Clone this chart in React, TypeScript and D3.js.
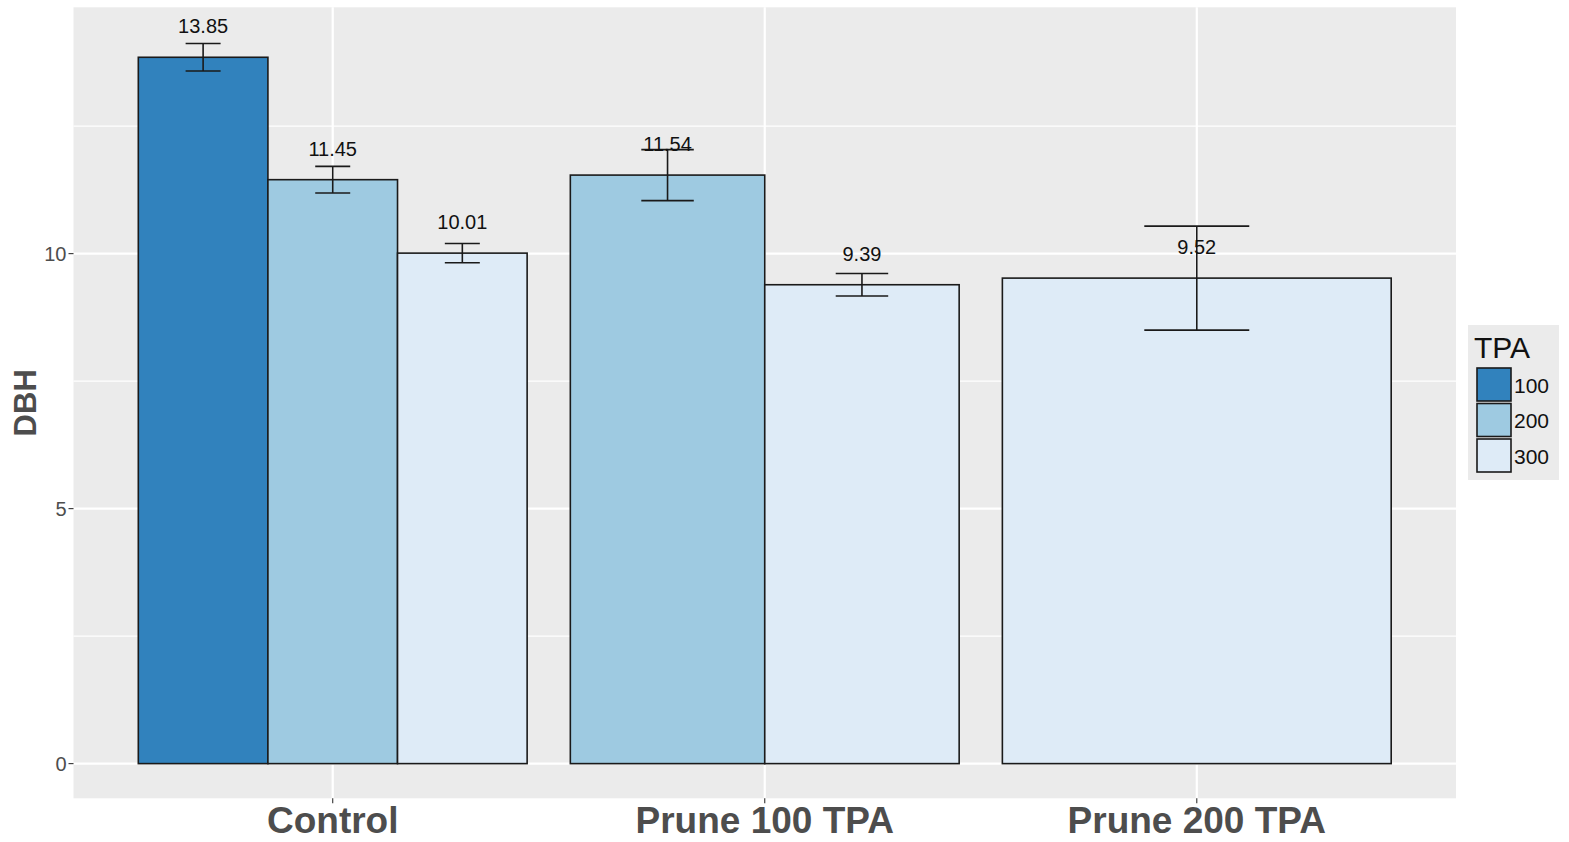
import React from "react";
import * as d3 from "d3";

const treatments = ["Control", "Prune 100 TPA", "Prune 200 TPA"];
const tpaLevels = ["100", "200", "300"];
const barTreatment = ["Control", "Control", "Control", "Prune 100 TPA", "Prune 100 TPA", "Prune 200 TPA"];
const barTpa = ["100", "200", "300", "200", "300", "300"];
const barMean = [13.85, 11.45, 10.01, 11.54, 9.39, 9.52];
const barSE = [0.27, 0.26, 0.19, 0.5, 0.22, 1.02];
const yTicks = [0, 5, 10];
const yMinor = [2.5, 7.5, 12.5];
const tpaColors = ["#3182bd", "#9ecae1", "#deebf7"];

const W = 1569;
const H = 842;
const panel = { left: 73.5, right: 1456, top: 7.3, bottom: 798.3 };

export default function App() {
  const x = d3.scaleLinear().domain([0.4, 3.6]).range([panel.left, panel.right]);
  const y = d3.scaleLinear().domain([-0.68, 14.83]).range([panel.bottom, panel.top]);
  const color = d3.scaleOrdinal<string, string>().domain(tpaLevels).range(tpaColors);
  const unit = x(1) - x(0);
  const groupWidth = 0.9 * unit;

  const bars = barMean.map((m, i) => {
    const t = barTreatment[i];
    const ti = treatments.indexOf(t);
    const members = barTreatment.map((bt, j) => (bt === t ? j : -1)).filter((j) => j >= 0);
    const k = members.indexOf(i);
    const bw = groupWidth / members.length;
    const x0 = x(ti + 1) - groupWidth / 2 + k * bw;
    return { i, x0, bw, cx: x0 + bw / 2, mean: m, se: barSE[i], tpa: barTpa[i] };
  });

  const font = "'Liberation Sans', Arial, sans-serif";

  return (
    <div style={{ position: "absolute", left: 0, top: 0 }}>
      <svg width={W} height={H} style={{ display: "block" }} fontFamily={font}>
        <rect x={0} y={0} width={W} height={H} fill="#ffffff" />
        <rect x={panel.left} y={panel.top} width={panel.right - panel.left} height={panel.bottom - panel.top} fill="#ebebeb" />
        {yMinor.map((v) => (
          <line key={"mn" + v} x1={panel.left} x2={panel.right} y1={y(v)} y2={y(v)} stroke="#ffffff" strokeWidth={1.1} />
        ))}
        {yTicks.map((v) => (
          <line key={"mj" + v} x1={panel.left} x2={panel.right} y1={y(v)} y2={y(v)} stroke="#ffffff" strokeWidth={2.2} />
        ))}
        {treatments.map((t, i) => (
          <line key={"vx" + t} x1={x(i + 1)} x2={x(i + 1)} y1={panel.top} y2={panel.bottom} stroke="#ffffff" strokeWidth={2.2} />
        ))}
        {bars.map((b) => (
          <rect
            key={"bar" + b.i}
            x={b.x0}
            y={y(b.mean)}
            width={b.bw}
            height={y(0) - y(b.mean)}
            fill={color(b.tpa)}
            stroke="#1a1a1a"
            strokeWidth={1.6}
          />
        ))}
        {bars.map((b) => {
          const hw = (b.bw * 0.27) / 2;
          return (
            <g key={"eb" + b.i} stroke="#1a1a1a" strokeWidth={1.6}>
              <line x1={b.cx} x2={b.cx} y1={y(b.mean + b.se)} y2={y(b.mean - b.se)} />
              <line x1={b.cx - hw} x2={b.cx + hw} y1={y(b.mean + b.se)} y2={y(b.mean + b.se)} />
              <line x1={b.cx - hw} x2={b.cx + hw} y1={y(b.mean - b.se)} y2={y(b.mean - b.se)} />
            </g>
          );
        })}
        {bars.map((b) => (
          <text
            key={"lb" + b.i}
            x={b.cx}
            y={y(b.mean) - 31}
            textAnchor="middle"
            dominantBaseline="central"
            fontSize={20}
            fill="#111111"
          >
            {b.mean.toFixed(2)}
          </text>
        ))}
        {yTicks.map((v) => (
          <g key={"yt" + v}>
            <line x1={panel.left - 5} x2={panel.left} y1={y(v)} y2={y(v)} stroke="#333333" strokeWidth={1.1} />
            <text x={panel.left - 7} y={y(v)} textAnchor="end" dominantBaseline="central" fontSize={20} fill="#4d4d4d">
              {v}
            </text>
          </g>
        ))}
        {treatments.map((t, i) => (
          <g key={"xt" + t}>
            <line x1={x(i + 1)} x2={x(i + 1)} y1={panel.bottom} y2={panel.bottom + 5} stroke="#333333" strokeWidth={1.1} />
            <text x={x(i + 1)} y={833} textAnchor="middle" fontSize={37} fontWeight="bold" fill="#4d4d4d">
              {t}
            </text>
          </g>
        ))}
        <text
          transform={`translate(36, ${(panel.top + panel.bottom) / 2}) rotate(-90)`}
          textAnchor="middle"
          fontSize={31}
          fontWeight="bold"
          fill="#4d4d4d"
        >
          DBH
        </text>
        <g>
          <rect x={1468} y={325} width={91} height={155} fill="#ebebeb" />
          <text x={1474} y={358} fontSize={30} fill="#111111">TPA</text>
          {tpaLevels.map((lv, i) => (
            <g key={"lg" + lv}>
              <rect x={1477} y={368 + i * 35.5} width={34} height={33} fill={color(lv)} stroke="#1a1a1a" strokeWidth={1.6} />
              <text x={1514} y={368 + i * 35.5 + 17} dominantBaseline="central" fontSize={21} fill="#111111">
                {lv}
              </text>
            </g>
          ))}
        </g>
      </svg>
    </div>
  );
}
